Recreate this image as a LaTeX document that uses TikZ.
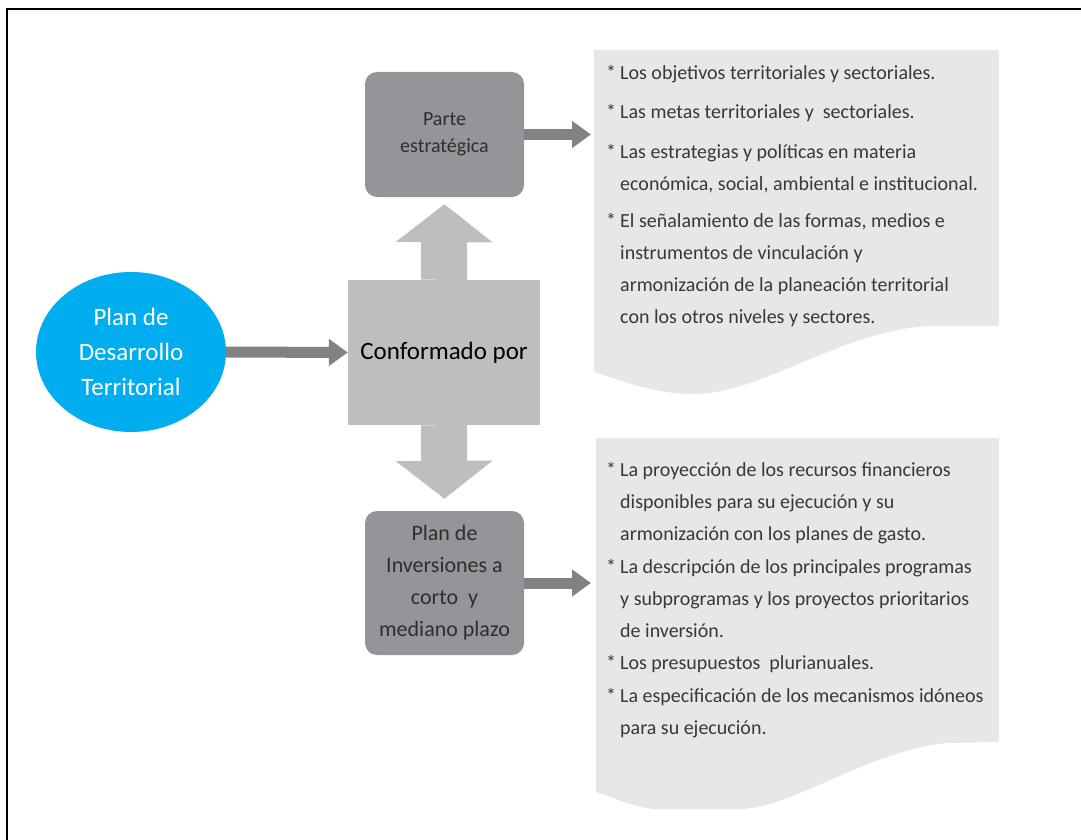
\documentclass[tikz,border=0pt]{standalone}
\usepackage{fontspec}
\setmainfont{Carlito}
\usetikzlibrary{shapes.geometric,arrows.meta}

\definecolor{cielo}{HTML}{00AEEF}
\definecolor{grisClaro}{HTML}{BCBEC0}
\definecolor{grisMedio}{HTML}{939598}
\definecolor{grisFlecha}{HTML}{808285}
\definecolor{grisNota}{HTML}{E6E7E8}
\definecolor{textoNota}{HTML}{38383A}
\definecolor{textoCaja}{HTML}{2E2E30}

\newcommand{\estrella}{\leavevmode\llap{*\hspace{4pt}}}

\tikzset{
  caja/.style={fill=grisMedio, rounded corners=12pt, text=textoCaja, align=center, inner sep=0pt, minimum width=159pt},
  flecha/.style={draw=grisFlecha, line width=11pt, -{Triangle[length=19pt,width=26pt]}},
  bloque/.style={draw=grisClaro, line width=46pt, -{Triangle[length=38pt,width=95pt]}},
  vineta/.style={anchor=north west, inner sep=0pt, align=left, text=textoNota, font=\fontsize{20}{32}\selectfont}
}

\begin{document}
\begin{tikzpicture}[x=1pt,y=-1pt]
\useasboundingbox (0,0) rectangle (1081,840);
\draw[line width=1.5pt] (7,840) -- (7,9) -- (1081,9); %frame

\fill[grisNota] (594,50) -- (999,50) -- (999,326) -- (930,326) .. controls (840,330) and (760,396) .. (690,394) .. controls (650,393) and (620,380) .. (594,372) -- cycle; %top note
\fill[grisNota] (596,438) -- (999,438) -- (999,742) -- (947,743) .. controls (870,750) and (790,809) .. (740,809) -- (653,809) .. controls (630,806) and (615,798) .. (596,792) -- cycle; %bottom note

\node[ellipse, fill=cielo, minimum width=190pt, minimum height=160pt, inner sep=0pt, text=white, align=center, font=\fontsize{25}{35}\selectfont] (pdt) at (131,352) {Plan de\\Desarrollo\\Territorial};
\node[fill=grisClaro, minimum width=192pt, minimum height=145pt, inner sep=0pt, text=black, font=\fontsize{25}{30}\selectfont] (conf) at (444,352.5) {Conformado por};
\node[caja, minimum height=125pt, font=\fontsize{20}{27}\selectfont] (parte) at (444.5,134.5) {Parte\\estratégica};
\node[caja, minimum height=144pt, font=\fontsize{22}{32}\selectfont] (inv) at (444.5,583) {Plan de\\Inversiones a\\corto~ y\\mediano plazo};

\coordinate (notaA) at (591,0);
\coordinate (notaB) at (591,0);

\draw[flecha] (pdt.east) -- (conf.west);
\draw[bloque, shorten >=7pt] (conf.north) -- (parte.south);
\draw[bloque, shorten >=12pt] (conf.south) -- (inv.north);
\draw[flecha] (parte.east) -- (parte.east -| notaA);
\draw[flecha] (inv.east) -- (inv.east -| notaB);

% top note items
\node[vineta] (a1) at (620,65) {\estrella Los objetivos territoriales y sectoriales.};
\node[vineta] (a2) at (620,104) {\estrella Las metas territoriales y~ sectoriales.};
\node[vineta] (a3) at (620,144) {\estrella Las estrategias y políticas en materia\\económica, social, ambiental e institucional.};
\node[vineta] (a4) at (620,213) {\estrella El señalamiento de las formas, medios e\\instrumentos de vinculación y\\armonización de la planeación territorial\\con los otros niveles y sectores.};

% bottom note items
\node[vineta] (b1) at (620,462) {\estrella La proyección de los recursos financieros\\disponibles para su ejecución y su\\armonización con los planes de gasto.};
\node[vineta] (b2) at (620,559) {\estrella La descripción de los principales programas\\y subprogramas y los proyectos prioritarios\\de inversión.};
\node[vineta] (b3) at (620,655) {\estrella Los presupuestos~ plurianuales.};
\node[vineta] (b4) at (620,688) {\estrella La especificación de los mecanismos idóneos\\para su ejecución.};
\end{tikzpicture}
\end{document}
